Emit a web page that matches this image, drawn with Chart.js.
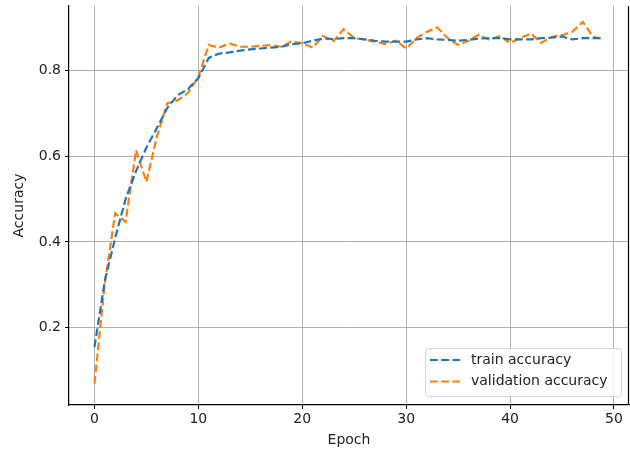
<!DOCTYPE html>
<html>
<head>
<meta charset="utf-8">
<script src="https://cdn.jsdelivr.net/npm/chart.js@4.4.1/dist/chart.umd.min.js"></script>
<style>
  html, body { margin: 0; padding: 0; background: #fff; }
  #wrap { width: 630px; height: 452px; }
</style>
</head>
<body>
<div id="wrap"><canvas id="acc-chart" width="630" height="452"></canvas></div>
<script>
// values
var epochs = [];
for (var i = 0; i < 50; i++) epochs.push(i);

var trainAcc = [0.155, 0.31, 0.41, 0.50, 0.565, 0.62, 0.665, 0.712, 0.742, 0.756,
                0.782, 0.829, 0.839, 0.842, 0.846, 0.849, 0.851, 0.853, 0.855, 0.861,
                0.863, 0.869, 0.874, 0.873, 0.875, 0.875, 0.872, 0.869, 0.867, 0.867,
                0.867, 0.872, 0.875, 0.872, 0.871, 0.869, 0.871, 0.874, 0.875, 0.875,
                0.872, 0.872, 0.872, 0.875, 0.876, 0.879, 0.872, 0.875, 0.875, 0.875];

var valAcc = [0.07, 0.305, 0.467, 0.447, 0.614, 0.54, 0.645, 0.723, 0.73, 0.747,
              0.785, 0.859, 0.853, 0.863, 0.855, 0.855, 0.857, 0.859, 0.855, 0.868,
              0.863, 0.853, 0.88, 0.868, 0.896, 0.875, 0.872, 0.867, 0.861, 0.869,
              0.851, 0.875, 0.89, 0.900, 0.875, 0.859, 0.869, 0.883, 0.871, 0.88,
              0.864, 0.875, 0.886, 0.864, 0.878, 0.882, 0.89, 0.913, 0.878, 0.873];

var xTicks = [0, 10, 20, 30, 40, 50];
var yTicks = [0.2, 0.4, 0.6, 0.8];

var seriesNames = ["train accuracy", "validation accuracy"];
var seriesColors = ["#1f77b4", "#ff7f0e"];

var font = "'DejaVu Sans', sans-serif";
var dash = [7.8, 3.4];

function pts(arr) {
    return arr.map(function (v, i) { return { x: epochs[i], y: v }; });
}

// legend box drawn inside the plot, lower right, like matplotlib
var boxLegend = {
    id: "boxLegend",
    afterDatasetsDraw: function (chart) {
        var c = chart.ctx;
        var x0 = 425.5, y0 = 348.5, w = 196, h = 48;
        c.save();
        c.fillStyle = "rgba(255,255,255,0.8)";
        c.strokeStyle = "#d6d6d6";
        c.lineWidth = 1;
        c.beginPath();
        c.moveTo(x0 + 3, y0);
        c.arcTo(x0 + w, y0, x0 + w, y0 + h, 3);
        c.arcTo(x0 + w, y0 + h, x0, y0 + h, 3);
        c.arcTo(x0, y0 + h, x0, y0, 3);
        c.arcTo(x0, y0, x0 + w, y0, 3);
        c.closePath();
        c.fill();
        c.stroke();
        c.font = "14px " + font;
        c.textBaseline = "middle";
        for (var k = 0; k < seriesNames.length; k++) {
            var yy = 360 + k * 21.5;
            c.strokeStyle = seriesColors[k];
            c.lineWidth = 2.2;
            c.setLineDash(dash);
            c.beginPath();
            c.moveTo(430, yy);
            c.lineTo(460, yy);
            c.stroke();
            c.setLineDash([]);
            c.fillStyle = "#222";
            c.fillText(seriesNames[k], 471, yy);
        }
        c.restore();
    }
};

// right spine
var rightSpine = {
    id: "rightSpine",
    afterDraw: function (chart) {
        var a = chart.chartArea, c = chart.ctx;
        c.save();
        c.strokeStyle = "#000";
        c.lineWidth = 1.2;
        c.beginPath();
        c.moveTo(a.right - 0.5, a.top);
        c.lineTo(a.right - 0.5, a.bottom);
        c.stroke();
        c.restore();
    }
};

var ctx = document.getElementById("acc-chart").getContext("2d");
var accChart = new Chart(ctx, {
    type: "line",
    data: {
        datasets: [{
            label: seriesNames[0],
            data: pts(trainAcc),
            borderColor: seriesColors[0],
            borderWidth: 2.2,
            borderDash: dash,
            pointRadius: 0,
            fill: false,
            tension: 0
        }, {
            label: seriesNames[1],
            data: pts(valAcc),
            borderColor: seriesColors[1],
            borderWidth: 2.2,
            borderDash: dash,
            pointRadius: 0,
            fill: false,
            tension: 0
        }]
    },
    options: {
        responsive: false,
        animation: false,
        layout: { padding: { top: 6, right: 1, left: 0, bottom: 0 } },
        plugins: {
            legend: { display: false },
            tooltip: { enabled: false }
        },
        scales: {
            x: {
                type: "linear",
                min: -2.45,
                max: 51.45,
                afterBuildTicks: function (s) { s.ticks = xTicks.map(function (v) { return { value: v }; }); },
                afterFit: function (s) { s.height = 47; s.paddingLeft = 0; s.paddingRight = 0; },
                ticks: {
                    color: "#222",
                    font: { family: font, size: 14 },
                    padding: 2,
                    maxRotation: 0,
                    callback: function (v) { return String(v); }
                },
                grid: { color: "#b0b0b0", lineWidth: 1, tickColor: "#000", tickLength: 4 },
                border: { color: "#000", width: 1.2 },
                title: {
                    display: true,
                    text: "Epoch",
                    color: "#222",
                    font: { family: font, size: 14 },
                    padding: { top: 0, bottom: 3.6 }
                }
            },
            y: {
                min: 0.02,
                max: 0.95,
                afterBuildTicks: function (s) { s.ticks = yTicks.map(function (v) { return { value: v }; }); },
                afterFit: function (s) { s.width = 69; s.paddingTop = 0; s.paddingBottom = 0; },
                ticks: {
                    color: "#222",
                    font: { family: font, size: 14 },
                    padding: 4,
                    callback: function (v) { return v.toFixed(1); }
                },
                grid: { color: "#b0b0b0", lineWidth: 1, tickColor: "#000", tickLength: 4 },
                border: { color: "#000", width: 1.2 },
                title: {
                    display: true,
                    text: "Accuracy",
                    color: "#222",
                    font: { family: font, size: 14 },
                    padding: { top: 11, bottom: 0 }
                }
            }
        }
    },
    plugins: [boxLegend, rightSpine]
});
</script>
</body>
</html>
